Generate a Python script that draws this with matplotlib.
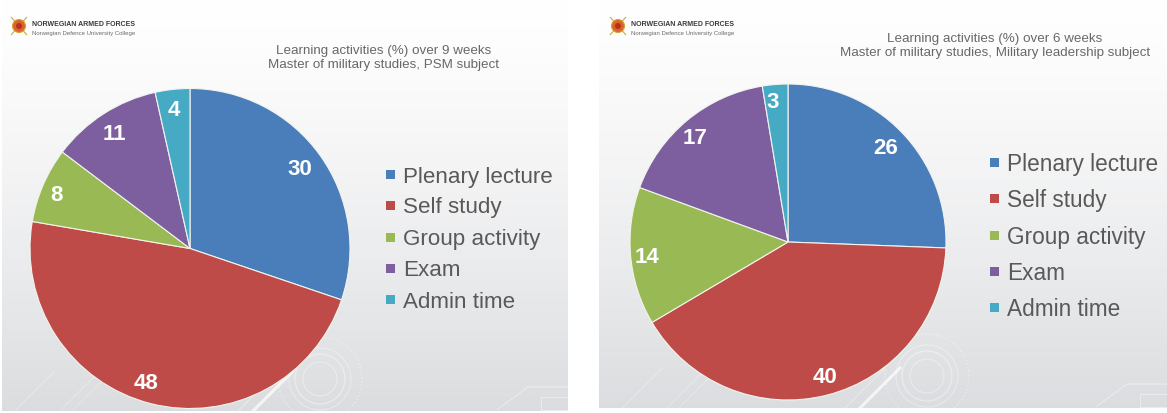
"""Two slide-style pie charts of learning activities, side by side."""

import numpy as np
import matplotlib
matplotlib.use("Agg")
import matplotlib.pyplot as plt
from matplotlib.patches import Circle, Polygon, Rectangle

W, H = 1167, 414

categories = ["Plenary lecture", "Self study", "Group activity", "Exam", "Admin time"]
colors = ["#4a7ebb", "#be4b48", "#98b954", "#7d5fa0", "#46aac5"]

# printed labels, and the unrounded shares
psm_values = [30, 48, 8, 11, 4]
psm_shares = [30.2, 47.5, 7.6, 11.2, 3.5]
leadership_values = [26, 40, 14, 17, 3]
leadership_shares = [25.6, 40.9, 14.1, 16.8, 2.6]

org_name = "NORWEGIAN ARMED FORCES"
org_sub = "Norwegian Defence University College"
psm_title = "Learning activities (%) over 9 weeks\nMaster of military studies, PSM subject"
leadership_title = ("Learning activities (%) over 6 weeks\n"
                    "Master of military studies, Military leadership subject")

plt.rcParams["font.family"] = ["Liberation Sans", "DejaVu Sans"]


def fy(y):
    # picture y (down) -> axes y (up)
    return H - y


def draw_panel(ax, x0, x1, y1, values, shares, centre, radius, title, title_xy,
               legend_x, legend_ys, legend_size, nudges, logo_x, gear_x):
    grad = np.linspace(0.0, 1.0, 256).reshape(-1, 1, 1) ** 1.3
    top, bottom = np.array([1.0, 1.0, 1.0]), np.array([0.86, 0.865, 0.875])
    bg = ax.imshow((1 - grad) * top + grad * bottom, extent=(x0, x1, fy(y1), H),
                   aspect="auto", zorder=0)
    clip = Rectangle((x0, fy(y1)), x1 - x0, y1, transform=ax.transData)
    bg.set_clip_path(clip)

    # faint background decoration in the bottom corner
    cy = y1 - 32
    for r, lw, ls in ((17, 0.7, "-"), (25, 0.9, "-"), (31, 0.7, "-"), (42, 1.0, ":")):
        c = Circle((gear_x, fy(cy)), r, fill=False, ec="white", lw=lw, ls=ls, alpha=0.4, zorder=1)
        ax.add_patch(c)
        c.set_clip_path(clip)
    for off, lw, alpha in ((-305, 0.7, 0.3), (-260, 0.7, 0.3), (-248, 0.7, 0.3), (-67, 2.2, 0.7), (-82, 0.7, 0.4)):
        ln, = ax.plot([gear_x + off, gear_x + off + 40], [fy(y1), fy(y1 - 40)],
                      color="white", lw=lw, alpha=alpha, zorder=1)
        ln.set_clip_path(clip)
    ln, = ax.plot([x1 - 70, x1 - 40, x1], [fy(y1 - 2), fy(y1 - 24), fy(y1 - 24)],
                  color="white", lw=0.7, alpha=0.45, zorder=1)
    ln.set_clip_path(clip)
    deco = Rectangle((x1 - 27, fy(y1 - 1)), 40, 13, fill=False, ec="white", lw=0.7, alpha=0.45, zorder=1)
    ax.add_patch(deco)
    deco.set_clip_path(clip)

    # logo
    lx, ly = logo_x, 27
    ax.add_patch(Polygon([(lx - 8, fy(ly + 9)), (lx + 8, fy(ly - 9))], closed=False,
                         ec="#c9a84a", lw=0.8, zorder=2))
    ax.add_patch(Polygon([(lx - 8, fy(ly - 9)), (lx + 8, fy(ly + 9))], closed=False,
                         ec="#c9a84a", lw=0.8, zorder=2))
    ax.add_patch(Circle((lx, fy(ly)), 6.5, fc="#d9652a", ec="#e0a030", lw=0.8, zorder=3))
    ax.add_patch(Circle((lx, fy(ly)), 3, fc="#b8301f", ec="none", zorder=4))
    ax.text(lx + 13, fy(24), org_name, fontsize=5.0, fontweight="bold", color="#3a3a3a",
            va="center", ha="left", zorder=5)
    ax.text(lx + 13, fy(33), org_sub, fontsize=4.3, color="#6a6a6a",
            va="center", ha="left", zorder=5)

    wedges, _ = ax.pie(shares, colors=colors, startangle=90, counterclock=False,
                       center=(centre[0], fy(centre[1])), radius=radius, frame=False,
                       wedgeprops={"edgecolor": "#f2f4ee", "linewidth": 0.8, "zorder": 3})
    for w, v, (nx, ny) in zip(wedges, values, nudges):
        mid = np.deg2rad((w.theta1 + w.theta2) / 2)
        ax.text(centre[0] + 0.875 * radius * np.cos(mid) + nx,
                fy(centre[1]) + 0.875 * radius * np.sin(mid) - ny,
                str(v), color="white", fontsize=16, fontweight="bold",
                ha="center", va="center", zorder=6)

    ax.text(title_xy[0], fy(title_xy[1]), title, fontsize=9.6, color="#686868",
            ha="center", va="center", linespacing=1.2, zorder=5)

    for cat, col, y in zip(categories, colors, legend_ys):
        ax.add_patch(Rectangle((legend_x - 4.5, fy(y) - 4.5), 9, 9, fc=col, ec="none", zorder=5))
        ax.text(legend_x + 13, fy(y + 2), cat, fontsize=legend_size, color="#595959",
                ha="left", va="center", zorder=5)


fig = plt.figure(figsize=(W / 100, H / 100), dpi=100, facecolor="white")
ax = fig.add_axes([0, 0, 1, 1])

draw_panel(ax, 2, 568, 412, psm_values, psm_shares, (190, 249.5), 160, psm_title, (384, 58),
           390, [175, 206, 238, 269, 300], 16.1,
           [(-4, 2), (-10, -2), (-5, 2), (0, 3), (-1, 0)], 19, 320)
draw_panel(ax, 599, 1167, 409, leadership_values, leadership_shares, (788, 243), 158,
           leadership_title, (995, 46),
           994, [163, 199, 236, 272, 308], 16.3,
           [(-2, 1), (3, 0), (-3, 2), (-5, 2), (-4, -3)], 618, 927)

ax.set_xlim(0, W)
ax.set_ylim(0, H)
ax.set_aspect("auto")
ax.axis("off")

fig.savefig("out.png", dpi=100, facecolor="white")
